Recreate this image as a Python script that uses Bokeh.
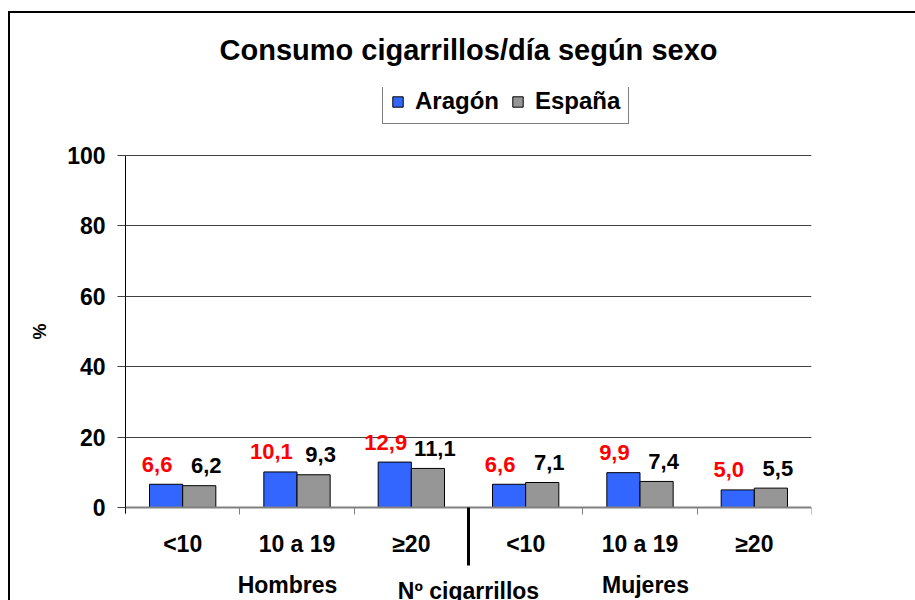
from bokeh.plotting import figure
from bokeh.models import (Range1d, LinearAxis, FixedTicker, ColumnDataSource, Grid)
from bokeh.transform import dodge
from bokeh.core.properties import value
from bokeh.embed import file_html
from bokeh.resources import INLINE

# ---- data ----
categories = ["<10", "10 a 19", "≥20", "<10", "10 a 19", "≥20"]
groups = ["Hombres", "Mujeres"]
aragon = [6.6, 10.1, 12.9, 6.6, 9.9, 5.0]
espana = [6.2, 9.3, 11.1, 7.1, 7.4, 5.5]
y_ticks = [0, 20, 40, 60, 80, 100]
series_names = ["Aragón", "España"]
title_text = "Consumo cigarrillos/día según sexo"
x_title = "Nº cigarrillos"
y_title = "%"

FONT = "Liberation Sans"
BLUE = "#3366FF"
GRAY = "#969696"
n = len(categories)
centers = [i + 0.5 for i in range(n)]
bounds = list(range(n + 1))
bw = 0.29

# layout (pixels)
PLOT_H = 352          # height of the 0..100 value area
ABOVE_PX = 68         # room above 100 for the legend
BELOW_PX = 93         # room below 0 for category/group labels
ppu = PLOT_H / (y_ticks[-1] - y_ticks[0])
y_mid = (y_ticks[0] + y_ticks[-1]) / 2

def fmt(v):
    return f"{v:.1f}".replace(".", ",")

src = ColumnDataSource(dict(
    x=centers, aragon=aragon, espana=espana,
    la=[fmt(v) for v in aragon], le=[fmt(v) for v in espana],
))

p = figure(frame_width=686, frame_height=PLOT_H + ABOVE_PX + BELOW_PX,
           min_border_left=115, min_border_right=104,
           min_border_top=74, min_border_bottom=0,
           x_range=Range1d(0, n),
           y_range=Range1d(y_ticks[0] - BELOW_PX / ppu, y_ticks[-1] + ABOVE_PX / ppu),
           x_axis_location=None, y_axis_location=None,
           toolbar_location=None, output_backend="svg",
           outline_line_color=None)
p.styles = {"border-left": "2px solid black", "border-top": "2px solid black",
            "margin-top": "11px", "margin-left": "8px"}
for g in p.grid:
    g.visible = False

p.title.text = title_text
p.title.align = "center"
p.title.vertical_align = "top"
p.title.text_font = FONT
p.title.text_font_size = "29px"
p.title.text_font_style = "bold"
p.title.text_color = "black"
p.title.standoff = 40

p.add_layout(Grid(dimension=1, ticker=FixedTicker(ticks=y_ticks[1:]),
                  grid_line_color="#404040", grid_line_width=1))

# y axis
yax = LinearAxis(ticker=FixedTicker(ticks=y_ticks),
                 bounds=(y_ticks[0] - 6 / ppu, y_ticks[-1]),
                 axis_line_color="black", axis_line_width=1,
                 major_tick_out=8, major_tick_in=0, major_tick_line_color="#404040",
                 minor_tick_out=0, minor_tick_in=0,
                 major_label_text_font=FONT, major_label_text_font_size="23px",
                 major_label_text_font_style="bold", major_label_text_color="black",
                 major_label_standoff=12)
p.add_layout(yax, "left")

# y title, centred on the 0..100 span
ytl = LinearAxis(ticker=FixedTicker(ticks=[y_mid]),
                 major_label_overrides={y_mid: y_title},
                 major_label_orientation="vertical",
                 axis_line_color=None, major_tick_out=0, major_tick_in=0,
                 minor_tick_out=0, minor_tick_in=0,
                 major_label_text_font=FONT, major_label_text_font_size="18px",
                 major_label_text_font_style="bold", major_label_text_color="black",
                 major_label_standoff=15)
p.add_layout(ytl, "left")

# category axis
xa = LinearAxis(ticker=FixedTicker(ticks=centers, minor_ticks=bounds), fixed_location=0,
                major_label_overrides={c: lab for c, lab in zip(centers, categories)},
                axis_line_color="#808080", axis_line_width=2,
                major_tick_out=0, major_tick_in=0,
                minor_tick_out=7, minor_tick_in=0, minor_tick_line_color="#808080",
                major_label_text_font=FONT, major_label_text_font_size="23px",
                major_label_text_font_style="bold", major_label_text_color="black",
                major_label_standoff=16)
p.add_layout(xa, "below")

# divider between groups
xb = LinearAxis(ticker=FixedTicker(ticks=[n / 2]), fixed_location=0,
                axis_line_color=None, major_tick_out=58, major_tick_in=0,
                major_tick_line_width=3, major_tick_line_color="black",
                minor_tick_out=0, minor_tick_in=0,
                major_label_text_font_size="0px")
p.add_layout(xb, "below")

# group labels
gpos = [1.417, 4.548]
xc = LinearAxis(ticker=FixedTicker(ticks=gpos), fixed_location=0,
                major_label_overrides={g: lab for g, lab in zip(gpos, groups)},
                axis_line_color=None, major_tick_out=0, major_tick_in=0,
                minor_tick_out=0, minor_tick_in=0,
                major_label_text_font=FONT, major_label_text_font_size="23px",
                major_label_text_font_style="bold", major_label_text_color="black",
                major_label_standoff=64)
p.add_layout(xc, "below")

xd = LinearAxis(ticker=FixedTicker(ticks=[n / 2]), fixed_location=0,
                major_label_overrides={n / 2: x_title},
                axis_line_color=None, major_tick_out=0, major_tick_in=0,
                minor_tick_out=0, minor_tick_in=0,
                major_label_text_font=FONT, major_label_text_font_size="23px",
                major_label_text_font_style="bold", major_label_text_color="black",
                major_label_standoff=70)
p.add_layout(xd, "below")

# bars
p.vbar(x=dodge("x", -bw / 2, range=p.x_range), top="aragon", width=bw, source=src,
       fill_color=BLUE, line_color="black", line_width=1, legend_label=series_names[0])
p.vbar(x=dodge("x", bw / 2, range=p.x_range), top="espana", width=bw, source=src,
       fill_color=GRAY, line_color="black", line_width=1, legend_label=series_names[1])

# data labels
p.text(x=dodge("x", -bw / 2, range=p.x_range), y="aragon", text="la", source=src,
       x_offset=-9, y_offset=-20, text_align="center", text_baseline="alphabetic",
       text_font=value(FONT), text_font_size="22px", text_font_style="bold",
       text_color="#FF0000")
p.text(x=dodge("x", bw / 2, range=p.x_range), y="espana", text="le", source=src,
       x_offset=7, y_offset=-20, text_align="center", text_baseline="alphabetic",
       text_font=value(FONT), text_font_size="22px", text_font_style="bold",
       text_color="black")

lg = p.legend[0]
lg.orientation = "horizontal"
lg.location = (257, PLOT_H + BELOW_PX + 31)
lg.label_text_font = FONT
lg.label_text_font_size = "24px"
lg.label_text_font_style = "bold"
lg.label_text_color = "black"
lg.glyph_width = 13
lg.glyph_height = 13
lg.label_standoff = 11
lg.spacing = 12
lg.padding = 8
lg.margin = 0
lg.border_line_color = "black"
lg.border_line_width = 1
lg.background_fill_alpha = 1

open("out.html", "w").write(file_html(p, INLINE))
